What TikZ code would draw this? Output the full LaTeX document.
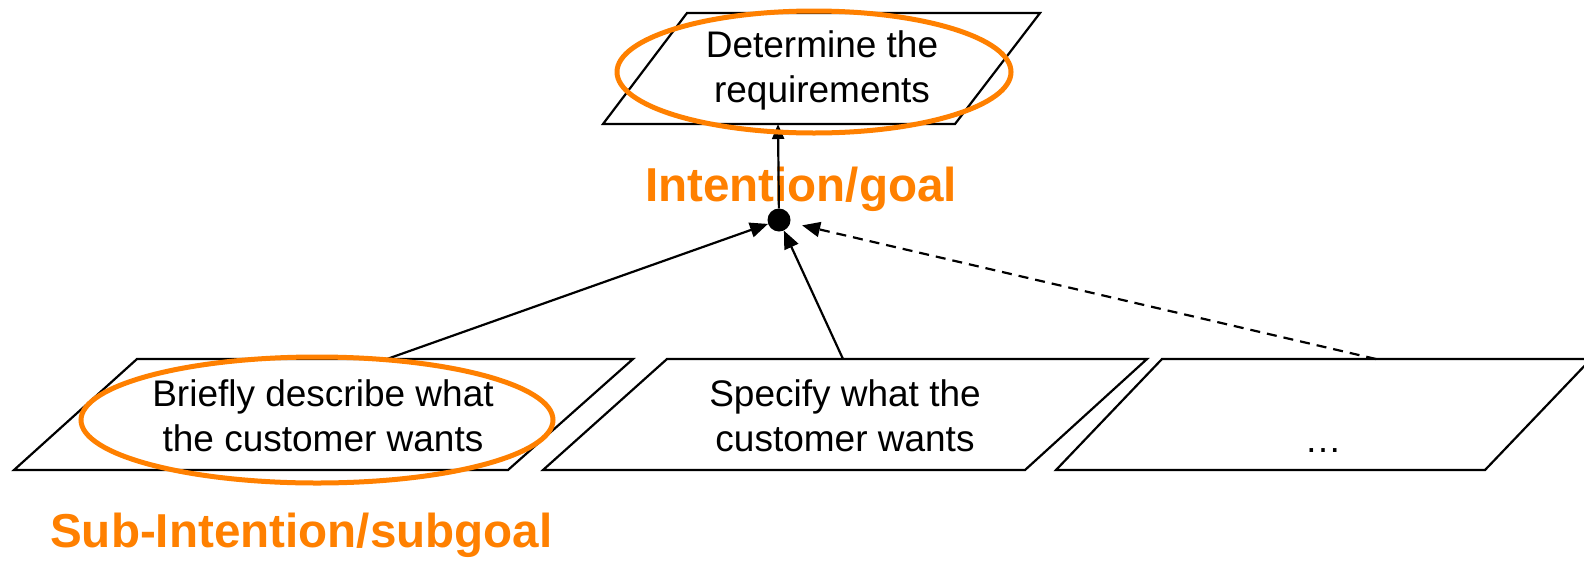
\documentclass[tikz,border=0pt]{standalone}
\usepackage{fontspec}
\setmainfont{Liberation Sans}
\usetikzlibrary{arrows.meta}
\definecolor{goalorange}{RGB}{255,128,0}
\begin{document}
\begin{tikzpicture}[x=1pt,y=-1pt,
  box/.style={draw=black,line width=2.2pt,line join=miter},
  boxtext/.style={align=center,inner sep=0pt,font=\fontsize{37}{45}\selectfont},
  label/.style={text=goalorange,inner sep=0pt,font=\fontsize{47.6}{57}\selectfont\bfseries},
  ring/.style={draw=goalorange,line width=5pt},
  link/.style={draw=black,line width=2.2pt,-{Triangle[length=18pt,width=15pt]}},
  hubdot/.style={circle,fill=black,inner sep=0pt,minimum size=23pt}]
\useasboundingbox (0,0) rectangle (1584,563);
\clip (0,0) rectangle (1584,563);

% goal box
\draw[box] (687,13) -- (1040,13) -- (955,124) -- (603,124) -- cycle;
\node[boxtext] (goal) at (822,70) {Determine the\\requirements};
\coordinate (goalin) at (778,124);

% sub-goal boxes
\draw[box] (137,359) -- (633,359) -- (508,470) -- (14,470) -- cycle;
\node[boxtext] (subA) at (323,416) {Briefly describe what\\the customer wants};
\coordinate (srcA) at (387,359);

\draw[box] (667,359) -- (1147,359) -- (1025,470) -- (543,470) -- cycle;
\node[boxtext] (subB) at (845,416) {Specify what the\\customer wants};
\coordinate (srcB) at (843,359);

\draw[box] (1162,359) -- (1591,359) -- (1485,470) -- (1056,470) -- cycle;
\node[boxtext,anchor=base] (subC) at (1323,452) {…};
\coordinate (srcC) at (1376,359);

% labels
\node[label] (goallabel) at (801,189) {Intention/goal};
\node[label,anchor=west] (sublabel) at (50,535) {Sub-Intention/subgoal};

% refinement links
\node[hubdot] (hub) at (779,220) {};
\draw[link,-{Triangle[length=15pt,width=12pt]}] (hub) -- (goalin);
\draw[link] (srcA) -- (hub);
\draw[link] (srcB) -- (hub);
\draw[link,dash pattern=on 10pt off 7pt,shorten >=12pt] (srcC) -- (hub);

% highlight rings
\draw[ring] (814,72) ellipse [x radius=197, y radius=61];
\draw[ring] (317,420) ellipse [x radius=236, y radius=63];
\end{tikzpicture}
\end{document}
